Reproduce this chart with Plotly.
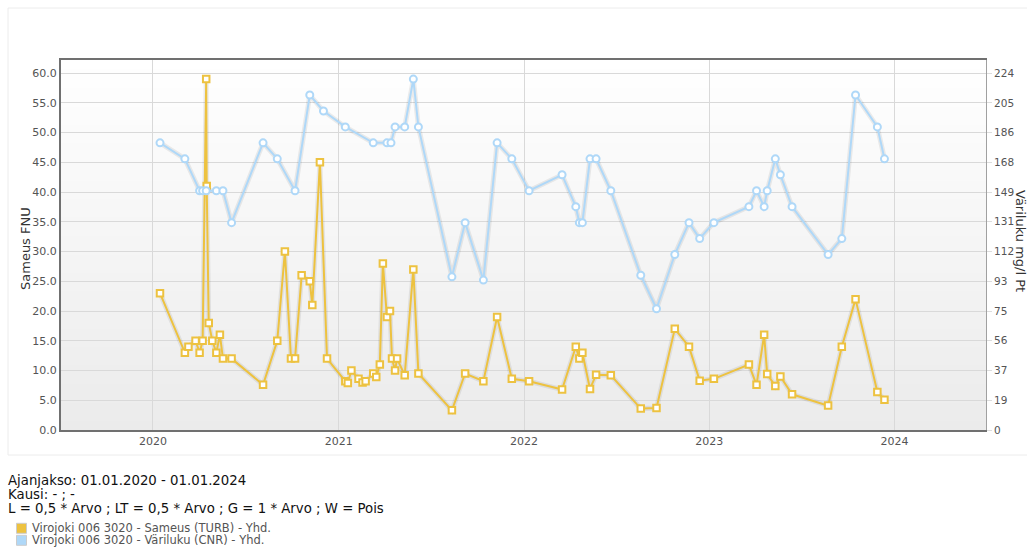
import plotly.graph_objects as go

# ---------------- data ----------------
turb_dates = [
    "2020-01-15", "2020-03-04", "2020-03-11", "2020-03-25", "2020-04-02", "2020-04-08",
    "2020-04-15", "2020-04-16", "2020-04-20", "2020-04-27", "2020-05-05", "2020-05-12",
    "2020-05-18", "2020-06-04", "2020-08-05", "2020-09-02", "2020-09-17", "2020-09-29",
    "2020-10-07", "2020-10-20", "2020-11-05", "2020-11-10", "2020-11-25", "2020-12-09",
    "2021-01-14", "2021-01-19", "2021-01-26", "2021-02-09", "2021-02-17", "2021-02-23",
    "2021-03-10", "2021-03-16", "2021-03-23", "2021-03-29", "2021-04-06", "2021-04-12",
    "2021-04-16", "2021-04-22", "2021-04-26", "2021-05-11", "2021-05-28", "2021-06-07",
    "2021-08-12", "2021-09-07", "2021-10-13", "2021-11-09", "2021-12-08",
    "2022-01-11", "2022-03-17", "2022-04-13", "2022-04-20", "2022-04-26", "2022-05-11",
    "2022-05-23", "2022-06-21", "2022-08-19", "2022-09-19", "2022-10-25", "2022-11-22",
    "2022-12-13",
    "2023-01-10", "2023-03-20", "2023-04-04", "2023-04-19", "2023-04-25", "2023-05-11",
    "2023-05-21", "2023-06-13", "2023-08-23", "2023-09-19", "2023-10-16", "2023-11-28",
    "2023-12-12",
]
turb_values = [
    23, 13, 14, 15, 13, 15, 59, 41, 18, 15, 13, 16, 12, 12, 7.6, 15, 30, 12, 12, 26, 25, 21, 45, 12,
    8.2, 7.9, 10, 8.6, 8.0, 8.2, 9.5, 8.9, 11, 28, 19, 20, 12, 10, 12, 9.2, 27, 9.5, 3.3, 9.5, 8.2, 19, 8.6,
    8.2, 6.8, 14, 12, 13, 6.9, 9.3, 9.2, 3.6, 3.7, 17, 14, 8.3,
    8.6, 11, 7.6, 16, 9.4, 7.4, 9.0, 6.0, 4.1, 14, 22, 6.4, 5.1,
]

cnr_dates = [
    "2020-01-15", "2020-03-04", "2020-04-02", "2020-04-08", "2020-04-15", "2020-05-05",
    "2020-05-18", "2020-06-04", "2020-08-05", "2020-09-02", "2020-10-07", "2020-11-05",
    "2020-12-02",
    "2021-01-14", "2021-03-10", "2021-04-06", "2021-04-14", "2021-04-22", "2021-05-11",
    "2021-05-28", "2021-06-07", "2021-08-12", "2021-09-07", "2021-10-13", "2021-11-09",
    "2021-12-08",
    "2022-01-11", "2022-03-17", "2022-04-13", "2022-04-20", "2022-04-26", "2022-05-11",
    "2022-05-23", "2022-06-21", "2022-08-19", "2022-09-19", "2022-10-25", "2022-11-22",
    "2022-12-13",
    "2023-01-10", "2023-03-20", "2023-04-04", "2023-04-19", "2023-04-25", "2023-05-11",
    "2023-05-21", "2023-06-13", "2023-08-23", "2023-09-19", "2023-10-16", "2023-11-28",
    "2023-12-12",
]
cnr_values = [
    180, 170, 150, 150, 150, 150, 150, 130, 180, 170, 150, 210, 200,
    190, 180, 180, 180, 190, 190, 220, 190, 96, 130, 94, 180, 170,
    150, 160, 140, 130, 130, 170, 170, 150, 97, 76, 110, 130, 120,
    130, 140, 150, 140, 150, 170, 160, 140, 110, 120, 210, 190, 170,
]

left_ticks = [0, 5, 10, 15, 20, 25, 30, 35, 40, 45, 50, 55, 60]
right_tick_labels = ["0", "19", "37", "56", "75", "93", "112", "131", "149", "168", "186", "205", "224"]
right_max = 223.75          # right-axis value aligned with left 60.0
left_top = 62.2
x_tick_years = ["2020-01-01", "2021-01-01", "2022-01-01", "2023-01-01", "2024-01-01"]
x_tick_text = ["2020", "2021", "2022", "2023", "2024"]

info_lines = [
    "Ajanjakso: 01.01.2020 - 01.01.2024",
    "Kausi: - ; -",
    "L = 0,5 * Arvo ; LT = 0,5 * Arvo ; G = 1 * Arvo ; W = Pois",
]
series_names = [
    "Virojoki 006 3020 - Sameus (TURB) - Yhd.",
    "Virojoki 006 3020 - Väriluku (CNR) - Yhd.",
]
ORANGE = "#edc240"
BLUE = "#afd8f8"

# ---------------- layout geometry (pixels) ----------------
W, H = 1027, 549
L, R, T, B = 61, 41, 60, 119
pw, ph = W - L - R, H - T - B


def px(x):
    return (x - L) / pw


def py(y):
    return (H - B - y) / ph


FONT = "DejaVu Sans, Verdana, sans-serif"

fig = go.Figure()

# shadows (flot style)
fig.add_trace(go.Scatter(x=turb_dates, y=turb_values, mode="lines", yaxis="y",
                         line=dict(color="rgba(0,0,0,0.07)", width=5), hoverinfo="skip",
                         showlegend=False))
fig.add_trace(go.Scatter(x=cnr_dates, y=cnr_values, mode="lines", yaxis="y2",
                         line=dict(color="rgba(0,0,0,0.07)", width=5), hoverinfo="skip",
                         showlegend=False))

fig.add_trace(go.Scatter(
    x=cnr_dates, y=cnr_values, mode="lines+markers", name=series_names[1], yaxis="y2",
    line=dict(color=BLUE, width=2),
    marker=dict(symbol="circle", size=7, color="white", line=dict(color=BLUE, width=2)),
    showlegend=False,
))
fig.add_trace(go.Scatter(
    x=turb_dates, y=turb_values, mode="lines+markers", name=series_names[0], yaxis="y",
    line=dict(color=ORANGE, width=2),
    marker=dict(symbol="square", size=6.5, color="white", line=dict(color=ORANGE, width=2)),
    showlegend=False,
))

shapes = []
# gradient plot background
N = 40
for i in range(N):
    t = i / N
    c0 = 235 + (255 - 235) * (t + 0.5 / N)
    c = int(round(min(255, c0)))
    shapes.append(dict(type="rect", xref="paper", yref="paper", x0=0, x1=1,
                       y0=t, y1=(i + 1) / N + 0.002, layer="below",
                       line=dict(width=0), fillcolor=f"rgb({c},{c},{c})"))
# outer container border
shapes.append(dict(type="rect", xref="paper", yref="paper",
                   x0=px(8), x1=px(1030), y0=py(455), y1=py(8),
                   line=dict(color="#ececec", width=1), fillcolor="rgba(0,0,0,0)", layer="below"))
# legend swatches
LEG_Y0, LEG_DY = 528.3, 12
for i, col in enumerate([ORANGE, BLUE]):
    yc = LEG_Y0 + i * LEG_DY
    shapes.append(dict(type="rect", xref="paper", yref="paper",
                       x0=px(16.5), x1=px(26.5), y0=py(yc + 5), y1=py(yc - 5),
                       line=dict(color="#cccccc", width=1), fillcolor=col))

annotations = []
annotations.append(dict(text="Sameus FNU", xref="paper", yref="paper", x=px(25), y=py(249),
                        textangle=-90, showarrow=False, xanchor="center", yanchor="middle",
                        font=dict(family=FONT, size=13, color="#333333")))
annotations.append(dict(text="Väriluku mg/l Pt", xref="paper", yref="paper", x=px(1021), y=py(241),
                        textangle=90, showarrow=False, xanchor="center", yanchor="middle",
                        font=dict(family=FONT, size=13, color="#333333")))
for i, line in enumerate(info_lines):
    annotations.append(dict(text=line, xref="paper", yref="paper", x=px(6), y=py(480.3 + 14 * i),
                            showarrow=False, xanchor="left", yanchor="middle",
                            font=dict(family=FONT, size=13.3, color="#111111")))
for i, name in enumerate(series_names):
    annotations.append(dict(text=name, xref="paper", yref="paper", x=px(30), y=py(LEG_Y0 + LEG_DY * i),
                            showarrow=False, xanchor="left", yanchor="middle",
                            font=dict(family=FONT, size=11.5, color="#545454")))

fig.update_layout(
    width=W, height=H,
    margin=dict(l=L, r=R, t=T, b=B, pad=0),
    paper_bgcolor="white",
    plot_bgcolor="white",
    font=dict(family=FONT, size=11, color="#545454"),
    showlegend=False,
    shapes=shapes,
    annotations=annotations,
    xaxis=dict(
        type="date", range=["2019-07-04", "2024-06-29"],
        tickvals=x_tick_years, ticktext=x_tick_text,
        showgrid=True, gridcolor="#d9d9d9", gridwidth=1,
        showline=True, linecolor="#707070", linewidth=2, mirror=True,
        ticks="", tickfont=dict(family=FONT, size=11, color="#545454"),
        zeroline=False, fixedrange=True,
    ),
    yaxis=dict(
        range=[0, left_top], tickvals=left_ticks, tickformat=".1f",
        showgrid=True, gridcolor="#d9d9d9", gridwidth=1,
        showline=True, linecolor="#707070", linewidth=2,
        ticks="", tickfont=dict(family=FONT, size=11, color="#545454"),
        zeroline=False, fixedrange=True,
    ),
    yaxis2=dict(
        overlaying="y", side="right",
        range=[0, left_top * right_max / 60],
        tickvals=[right_max * k / 12 for k in range(13)], ticktext=right_tick_labels,
        showgrid=False, showline=True, linecolor="#a0a0a0", linewidth=1,
        ticks="outside", ticklen=5, tickcolor="#dddddd",
        tickfont=dict(family=FONT, size=10.5, color="#545454"),
        zeroline=False, fixedrange=True,
    ),
)

fig.write_html("out.html")
